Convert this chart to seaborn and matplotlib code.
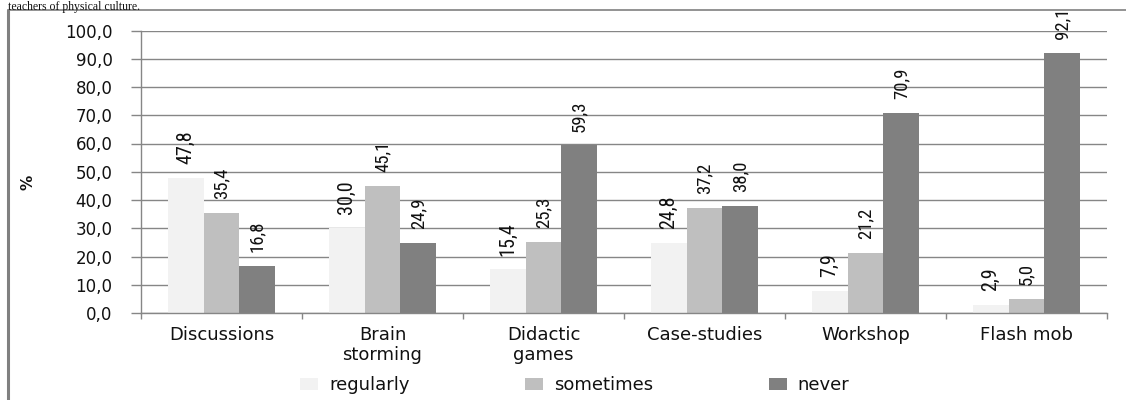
import matplotlib
matplotlib.use("Agg")
import matplotlib.pyplot as plt
import matplotlib.font_manager as fm
from matplotlib.lines import Line2D
import numpy as np
import pandas as pd
import seaborn as sns

# Teaching methods and how often teachers use them (%)
methods = ["Discussions", "Brain\nstorming", "Didactic\ngames", "Case-studies", "Workshop", "Flash mob"]
frequencies = ["regularly", "sometimes", "never"]
regularly = [47.8, 30.0, 15.4, 24.8, 7.9, 2.9]
sometimes = [35.4, 45.1, 25.3, 37.2, 21.2, 5.0]
never = [16.8, 24.9, 59.3, 38.0, 70.9, 92.1]
y_ticks = [0, 10, 20, 30, 40, 50, 60, 70, 80, 90, 100]
colors = ["#F2F2F2", "#BFBFBF", "#808080"]

series = {"regularly": regularly, "sometimes": sometimes, "never": never}
df = pd.DataFrame({
    "method": [m for f in frequencies for m in methods],
    "frequency": [f for f in frequencies for _ in methods],
    "value": [v for f in frequencies for v in series[f]],
})


def comma(v):
    return f"{v:.1f}".replace(".", ",")


def pick_font(candidates, default="DejaVu Sans"):
    names = {f.name for f in fm.fontManager.ttflist}
    for c in candidates:
        if c in names:
            return c
    return default


sns.set_theme(style="white")
plt.rcParams["font.family"] = ["DejaVu Sans"]
narrow = pick_font(["Liberation Sans Narrow", "DejaVu Sans Condensed", "Roboto Condensed"], "Liberation Sans")

W, H = 1126, 400
fig = plt.figure(figsize=(W / 100, H / 100), dpi=100)
ax = fig.add_axes([141 / W, 87 / H, 966 / W, 282.5 / H])

sns.barplot(data=df, x="method", y="value", hue="frequency", order=methods,
            hue_order=frequencies, palette=colors, width=0.665, saturation=1,
            linewidth=0, ax=ax)

grid_col = "#868686"
ax.set_xlim(-0.5, len(methods) - 0.5)
ax.set_ylim(0, 100)
ax.set_yticks(y_ticks)
ax.set_yticklabels([comma(t) for t in y_ticks])
ax.yaxis.grid(True, color=grid_col, lw=1)
ax.set_axisbelow(True)
for s in ["top", "right"]:
    ax.spines[s].set_visible(False)
for s in ["left", "bottom"]:
    ax.spines[s].set_color(grid_col)
    ax.spines[s].set_linewidth(1)

ax.tick_params(axis="y", length=7.5, width=1, color=grid_col, pad=13,
               labelsize=12, labelcolor="#111111", left=True)
ax.tick_params(axis="x", which="major", length=0, pad=9, labelsize=13,
               labelcolor="#111111")
ax.set_xticks(np.arange(-0.5, len(methods), 1), minor=True)
ax.tick_params(axis="x", which="minor", length=4, width=1, color=grid_col, bottom=True)
ax.set_xlabel("")
ax.set_ylabel("%", fontsize=11, fontweight="bold", color="#111111")
ax.yaxis.set_label_coords((35 - 141) / 966, (313 - 182) / 282.5)

# Value labels above each bar, rotated
for cont, freq in zip(ax.containers, frequencies):
    size = 14.5 if freq == "regularly" else 13.5
    ax.bar_label(cont, labels=[comma(v) for v in series[freq]], rotation=90,
                 padding=10, fontsize=size, family=narrow, color="#111111")

sns.move_legend(ax, "center", bbox_to_anchor=(575 / W, 15 / H),
                bbox_transform=fig.transFigure, ncol=3, frameon=False,
                title=None, handlelength=1.0, handleheight=0.65,
                handletextpad=0.6, columnspacing=6.4, fontsize=13)
for t in ax.get_legend().get_texts():
    t.set_color("#111111")

# Surrounding frame and caption line above it
fig.add_artist(Line2D([8 / W, 8 / W], [0, 1 - 10 / H], transform=fig.transFigure,
                      color="#808080", lw=2.2, zorder=1))
fig.add_artist(Line2D([8 / W, 1], [1 - 10 / H, 1 - 10 / H], transform=fig.transFigure,
                      color="#808080", lw=1.2, zorder=1))
fig.text(8 / W, 1 - 10 / H, "teachers of physical culture.", family="Liberation Serif",
         fontsize=8.5, va="baseline", color="#111111", zorder=3)

fig.savefig("out.png", dpi=100)
